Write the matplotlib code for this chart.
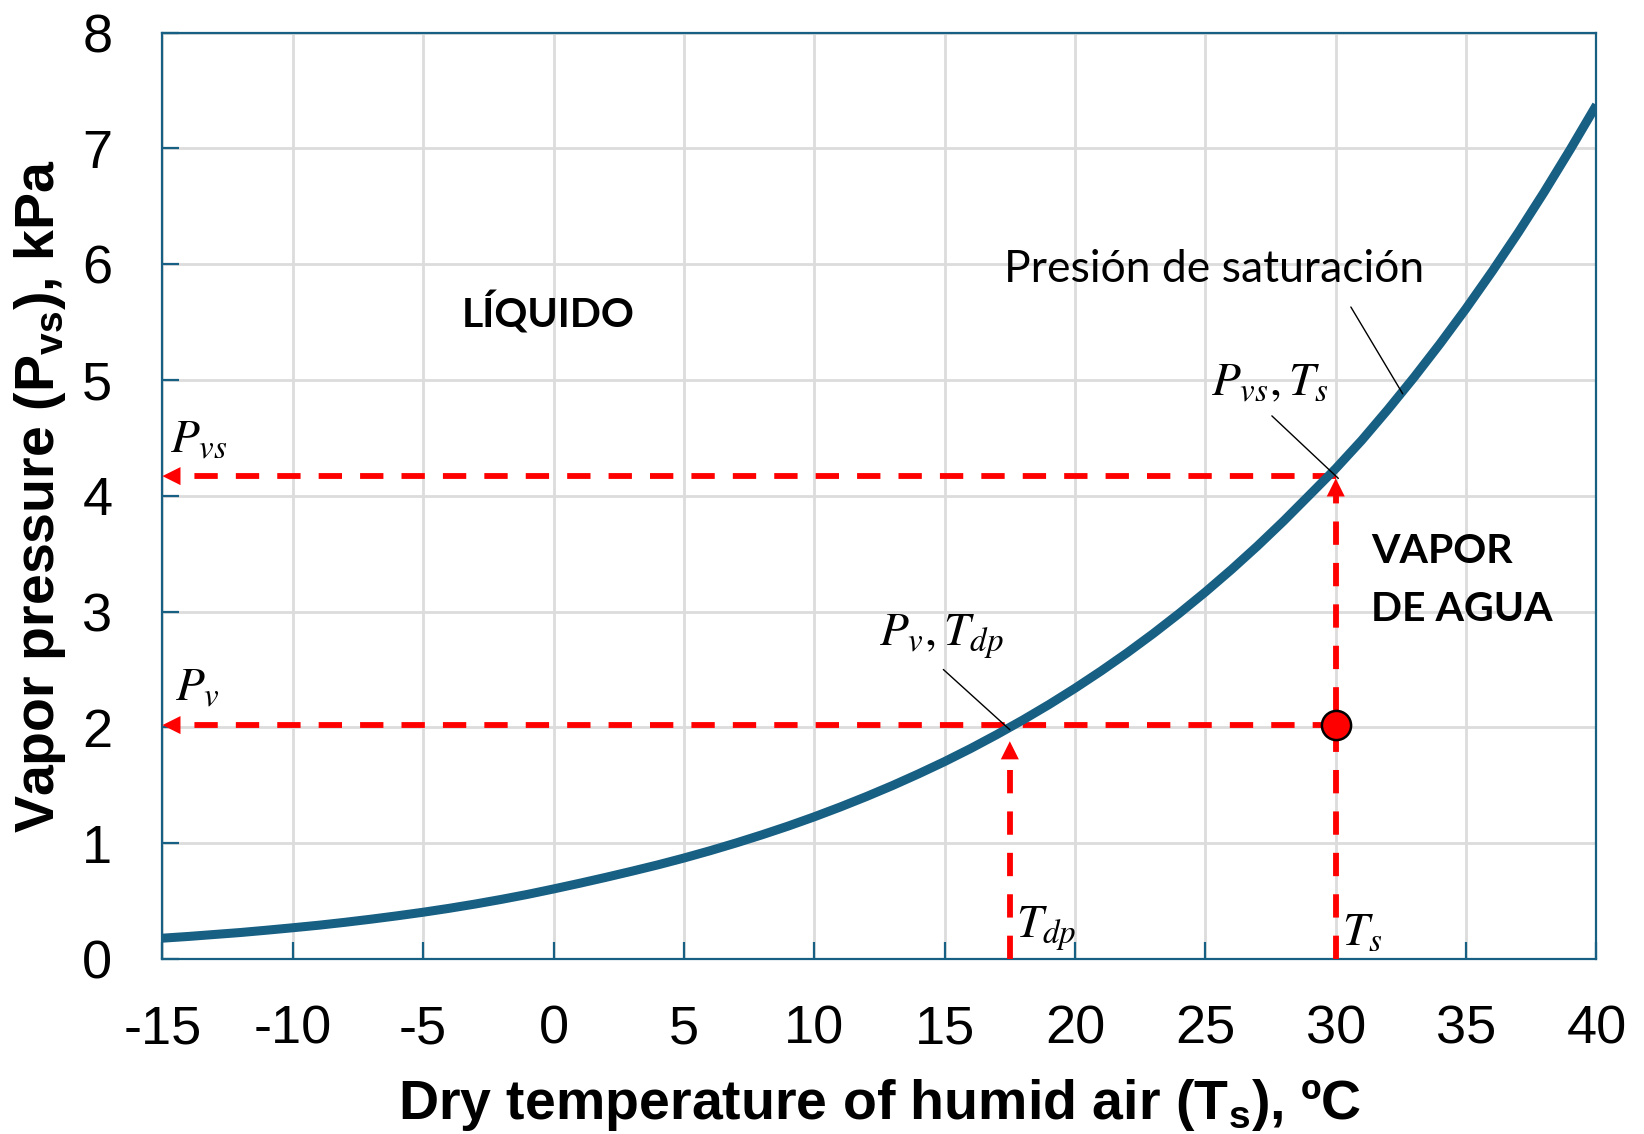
import matplotlib
matplotlib.use("Agg")
import matplotlib.pyplot as plt

# ---- data ----
temp_c = [-15, -14, -13, -12, -11, -10, -9, -8, -7, -6, -5, -4, -3, -2, -1,
          0, 1, 2, 3, 4, 5, 6, 7, 8, 9, 10, 11, 12, 13, 14, 15, 16, 17, 18,
          19, 20, 21, 22, 23, 24, 25, 26, 27, 28, 29, 30, 31, 32, 33, 34, 35,
          36, 37, 38, 39, 40]
p_sat_kpa = [0.180, 0.195, 0.212, 0.229, 0.249, 0.270, 0.292, 0.317, 0.344,
             0.373, 0.404, 0.438, 0.475, 0.515, 0.558, 0.605, 0.654, 0.705,
             0.758, 0.813, 0.872, 0.935, 1.002, 1.073, 1.148, 1.228, 1.313,
             1.403, 1.498, 1.599, 1.705, 1.818, 1.938, 2.064, 2.197, 2.338,
             2.487, 2.644, 2.810, 2.985, 3.169, 3.363, 3.567, 3.782, 4.008,
             4.235, 4.480, 4.745, 5.022, 5.313, 5.618, 5.938, 6.273, 6.625,
             6.993, 7.375]

T_s = 30.0       # dry temperature
T_dp = 17.5      # dew point
P_vs = 4.17      # saturation pressure at T_s
P_v = 2.02       # vapour pressure

x_ticks = [-15, -10, -5, 0, 5, 10, 15, 20, 25, 30, 35, 40]
y_ticks = [0, 1, 2, 3, 4, 5, 6, 7, 8]

# ---- style ----
plt.rcParams['mathtext.fontset'] = 'custom'
plt.rcParams['mathtext.rm'] = 'Liberation Sans'
plt.rcParams['mathtext.bf'] = 'Liberation Sans:bold'
plt.rcParams['font.family'] = ['Liberation Sans', 'DejaVu Sans']

BLUE = '#175f83'
RED = '#ff0000'
GRID = '#dcdcdc'

fig = plt.figure(figsize=(16.44, 11.34), dpi=100)
ax = fig.add_axes([0.0988, 0.1543, 0.9711 - 0.0988, 0.9713 - 0.1543])

ax.set_xlim(x_ticks[0], x_ticks[-1])
ax.set_ylim(y_ticks[0], y_ticks[-1])
ax.set_xticks(x_ticks)
ax.set_yticks(y_ticks)
ax.set_xticklabels([str(t) for t in x_ticks])
ax.set_yticklabels([str(t) for t in y_ticks])
ax.grid(True, color=GRID, lw=2.0, zorder=0)
ax.set_axisbelow(True)
for s in ax.spines.values():
    s.set_color(BLUE)
    s.set_linewidth(1.6)
ax.tick_params(axis='both', direction='in', length=12, width=1.6, color=BLUE,
               labelsize=39, labelcolor='black')
ax.tick_params(axis='y', pad=36)
ax.tick_params(axis='x', pad=33)

ax.set_xlabel(r"Dry temperature of humid air (T$_\mathbf{s}$), ºC",
              fontsize=40, fontweight='bold', labelpad=16)
ax.set_ylabel(r"Vapor pressure (P$_\mathbf{vs}$), kPa",
              fontsize=40, fontweight='bold', labelpad=10)

# ---- red dashed guide lines ----
dash_kw = dict(color=RED, lw=4.2, dashes=(4.0, 3.1), dash_capstyle='butt', zorder=3)
ax.plot([T_s, x_ticks[0] + 0.4], [P_vs, P_vs], **dash_kw)
ax.plot([T_s, x_ticks[0] + 0.4], [P_v, P_v], **dash_kw)
ax.plot([T_s, T_s], [y_ticks[0], P_vs - 0.1], **dash_kw)
ax.plot([T_dp, T_dp], [y_ticks[0], P_v - 0.2], **dash_kw)

head = dict(arrowstyle='-|>,head_length=13,head_width=6.5', color=RED, lw=0,
            shrinkA=0, shrinkB=0, mutation_scale=1)
ax.annotate('', xy=(x_ticks[0], P_vs), xytext=(x_ticks[0] + 1.5, P_vs), arrowprops=head, zorder=4)
ax.annotate('', xy=(x_ticks[0], P_v), xytext=(x_ticks[0] + 1.5, P_v), arrowprops=head, zorder=4)
ax.annotate('', xy=(T_s, P_vs - 0.02), xytext=(T_s, P_vs - 0.5), arrowprops=head, zorder=4)
ax.annotate('', xy=(T_dp, P_v - 0.14), xytext=(T_dp, P_v - 0.6), arrowprops=head, zorder=4)

# ---- saturation curve ----
ax.plot(temp_c, p_sat_kpa, color=BLUE, lw=6.5, solid_capstyle='butt',
        solid_joinstyle='round', zorder=5)

# state point
ax.plot([T_s], [P_v], marker='o', ms=21, mfc=RED, mec='black', mew=1.8, zorder=6,
        clip_on=False)

# ---- text annotations ----
lab_font = ['Lato', 'DejaVu Sans']
ax.text(-0.2, 5.58, "LÍQUIDO", fontsize=29.5, fontweight='bold', family=lab_font,
        ha='center', va='center')
ax.text(31.36, 3.52, "VAPOR", fontsize=29.5, fontweight='bold', family=lab_font,
        ha='left', va='center')
ax.text(31.36, 3.02, "DE AGUA", fontsize=29.5, fontweight='bold', family=lab_font,
        ha='left', va='center')
ax.text(17.28, 5.95, "Presión de saturación", fontsize=32, family=lab_font,
        ha='left', va='center')

mkw = dict(math_fontfamily='stix', fontsize=34, color='black')
ax.text(27.48, 4.97, r"$P_{vs},T_s$", ha='center', va='center', **mkw)
ax.text(14.86, 2.78, r"$P_v,T_{dp}$", ha='center', va='center', **mkw)
ax.text(17.73, 0.26, r"$T_{dp}$", ha='left', va='center', **mkw)
ax.text(30.24, 0.23, r"$T_s$", ha='left', va='center', **mkw)
ax.text(-14.7, 4.48, r"$P_{vs}$", ha='left', va='center', **mkw)
ax.text(-14.5, 2.34, r"$P_v$", ha='left', va='center', **mkw)

lead = dict(arrowstyle='-', color='black', lw=1.0, shrinkA=0, shrinkB=0)
ax.annotate('', xy=(32.57, 4.88), xytext=(30.58, 5.63), arrowprops=lead, zorder=7)
ax.annotate('', xy=(T_s + 0.1, P_vs - 0.02), xytext=(27.55, 4.69), arrowprops=lead, zorder=7)
ax.annotate('', xy=(T_dp, P_v - 0.04), xytext=(14.95, 2.50), arrowprops=lead, zorder=7)

fig.savefig("out.png", dpi=100)
